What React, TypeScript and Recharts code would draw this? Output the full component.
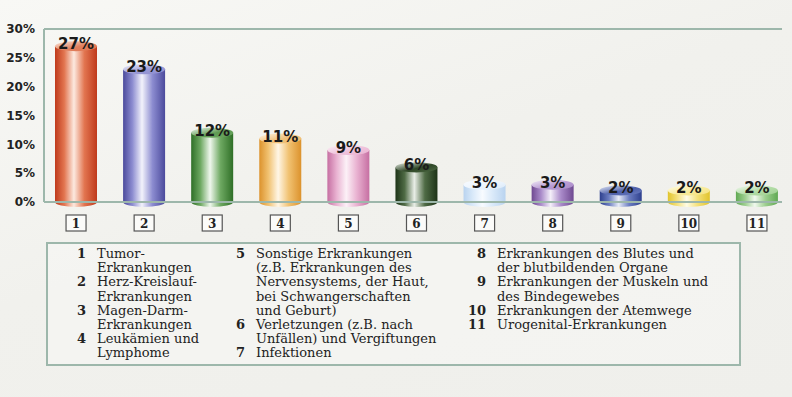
import React from "react";
import { BarChart, Bar, XAxis, YAxis, CartesianGrid, LabelList } from "recharts";

// Anteil der Todesursachen nach Krankheitsgruppe
const categories = ["1", "2", "3", "4", "5", "6", "7", "8", "9", "10", "11"];
const shares = [27, 23, 12, 11, 9, 6, 3, 3, 2, 2, 2];
const yTicks = [0, 5, 10, 15, 20, 25, 30];
const causes = [
  ["Tumor-", "Erkrankungen"],
  ["Herz-Kreislauf-", "Erkrankungen"],
  ["Magen-Darm-", "Erkrankungen"],
  ["Leukämien und", "Lymphome"],
  ["Sonstige Erkrankungen", "(z.B. Erkrankungen des", "Nervensystems, der Haut,", "bei Schwangerschaften", "und Geburt)"],
  ["Verletzungen (z.B. nach", "Unfällen) und Vergiftungen"],
  ["Infektionen"],
  ["Erkrankungen des Blutes und", "der blutbildenden Organe"],
  ["Erkrankungen der Muskeln und", "des Bindegewebes"],
  ["Erkrankungen der Atemwege"],
  ["Urogenital-Erkrankungen"],
];

// cylinder colours: dark edge, base, highlight, top
const PALETTE = [
  { dark: "#bf3a1c", base: "#e27550", light: "#fce9df", top: "#e0805e" },
  { dark: "#4b4a9c", base: "#8c8cd0", light: "#f2f2fb", top: "#9a9ad6" },
  { dark: "#2f6f27", base: "#6da861", light: "#eff7ed", top: "#5f9a53" },
  { dark: "#dc922c", base: "#f1c272", light: "#fff6e6", top: "#f0c07a" },
  { dark: "#c66fa2", base: "#e9b2d1", light: "#fcf1f7", top: "#efc3dc" },
  { dark: "#1d3317", base: "#4f6b45", light: "#e9eee7", top: "#2e4626" },
  { dark: "#b9d3ef", base: "#d9e9f9", light: "#f8fbff", top: "#ecf4fd" },
  { dark: "#6f4991", base: "#a98ac9", light: "#f4eff9", top: "#b89bd3" },
  { dark: "#2d3f8d", base: "#6b7dc1", light: "#e8ecf7", top: "#4d5fa9" },
  { dark: "#e1c42b", base: "#f5e17c", light: "#fffce6", top: "#f8eb9c" },
  { dark: "#60a952", base: "#9ecf90", light: "#f1f9ee", top: "#b2dca6" },
];

const GRID = "#9db7ab";

const data = categories.map((id, i) => ({ id, share: shares[i] }));

const Cylinder = (props: any) => {
  const { x, y, width, height, index } = props;
  const rx = width / 2;
  const ry = 5;
  const bottom = y + height;
  return (
    <g>
      <path
        d={`M${x},${y} L${x},${bottom} A${rx},${ry} 0 0 0 ${x + width},${bottom} L${x + width},${y} Z`}
        fill={`url(#cyl${index})`}
      />
      <ellipse cx={x + rx} cy={y} rx={rx} ry={ry} fill={`url(#top${index})`} />
    </g>
  );
};

const ValueLabel = (props: any) => {
  const { x, y, width, value } = props;
  return (
    <text
      x={x + width / 2}
      y={y + 3}
      textAnchor="middle"
      fontFamily="DejaVu Sans"
      fontWeight="bold"
      fontSize={15}
      fill="#1a1a1a"
    >
      {value}%
    </text>
  );
};

const BoxTick = (props: any) => {
  const { x, y, payload } = props;
  const w = 20;
  const h = 16;
  return (
    <g>
      <rect x={x - w / 2} y={y + 13} width={w} height={h} fill="#fbfbf9" stroke="#555" strokeWidth={1.2} />
      <text
        x={x}
        y={y + 25.5}
        textAnchor="middle"
        fontFamily="DejaVu Serif"
        fontWeight="bold"
        fontSize={12}
        fill="#222"
      >
        {payload.value}
      </text>
    </g>
  );
};

const legendColumns = [
  { left: 18, from: 0, to: 4 },
  { left: 177, from: 4, to: 7 },
  { left: 418, from: 7, to: 11 },
];

const App: React.FC = () => {
  return (
    <div
      style={{
        position: "absolute",
        left: 0,
        top: 0,
        width: 792,
        height: 397,
        overflow: "hidden",
        background: "linear-gradient(160deg, #f8f8f5 0%, #f1f1ed 45%, #efefeb 100%)",
      }}
    >
      <BarChart
        width={792}
        height={240}
        data={data}
        margin={{ top: 29, right: 10, left: 0, bottom: 0 }}
      >
        <defs>
          {PALETTE.map((c, i) => (
            <linearGradient key={`c${i}`} id={`cyl${i}`} x1="0" y1="0" x2="1" y2="0">
              <stop offset="0%" stopColor={c.dark} />
              <stop offset="22%" stopColor={c.base} />
              <stop offset="45%" stopColor={c.light} />
              <stop offset="70%" stopColor={c.base} />
              <stop offset="100%" stopColor={c.dark} />
            </linearGradient>
          ))}
          {PALETTE.map((c, i) => (
            <linearGradient key={`t${i}`} id={`top${i}`} x1="0" y1="0" x2="1" y2="1">
              <stop offset="0%" stopColor={c.light} />
              <stop offset="55%" stopColor={c.top} />
              <stop offset="100%" stopColor={c.base} />
            </linearGradient>
          ))}
        </defs>
        <CartesianGrid vertical={false} stroke={GRID} strokeWidth={2} />
        <XAxis
          dataKey="id"
          height={38}
          padding={{ left: -2, right: -9 }}
          axisLine={{ stroke: GRID, strokeWidth: 2 }}
          tickLine={false}
          tickSize={0}
          tickMargin={0}
          interval={0}
          tick={<BoxTick />}
        />
        <YAxis
          yAxisId="left"
          width={44}
          domain={[0, 30]}
          ticks={yTicks}
          tickFormatter={(v: number) => `${v}%`}
          axisLine={{ stroke: GRID, strokeWidth: 2 }}
          tickLine={false}
          tickSize={0}
          tickMargin={9}
          tick={{ fontFamily: "DejaVu Sans", fontWeight: "bold", fontSize: 12, fill: "#222" }}
        />
        <YAxis
          yAxisId="right"
          orientation="right"
          width={0}
          domain={[0, 30]}
          tick={false}
          tickLine={false}
          axisLine={{ stroke: GRID, strokeWidth: 2 }}
        />
        <Bar
          yAxisId="left"
          dataKey="share"
          barSize={42}
          shape={<Cylinder />}
          isAnimationActive={false}
        >
          <LabelList dataKey="share" content={<ValueLabel />} />
        </Bar>
      </BarChart>
      <div
        style={{
          position: "absolute",
          left: 46,
          top: 242,
          width: 695,
          height: 124,
          boxSizing: "border-box",
          border: `2px solid ${GRID}`,
          background: "rgba(255,255,255,0.25)",
          fontFamily: "DejaVu Serif",
          fontSize: 13,
          lineHeight: "14.2px",
          color: "#222",
        }}
      >
        {legendColumns.map((col) => (
          <div key={col.left} style={{ position: "absolute", left: col.left, top: 3 }}>
            {causes.slice(col.from, col.to).map((lines, j) => (
              <div key={j} style={{ display: "flex" }}>
                <div style={{ width: 20, textAlign: "right", fontWeight: "bold", marginRight: 11 }}>
                  {categories[col.from + j]}
                </div>
                <div style={{ whiteSpace: "nowrap" }}>
                  {lines.map((l) => (
                    <div key={l}>{l}</div>
                  ))}
                </div>
              </div>
            ))}
          </div>
        ))}
      </div>
    </div>
  );
};

export default App;
